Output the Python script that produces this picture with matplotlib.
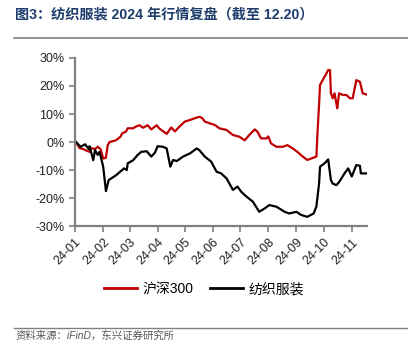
import matplotlib
matplotlib.use("Agg")
import matplotlib.pyplot as plt
import matplotlib.dates as mdates
from matplotlib.lines import Line2D
import pandas as pd

plt.rcParams['font.family'] = ['Liberation Sans', 'Noto Sans CJK SC', 'DejaVu Sans']
plt.rcParams['axes.unicode_minus'] = False

# 沪深300 cumulative return since 2024-01-02 (%)
hs300_dates = ["2024-01-02", "2024-01-06", "2024-01-10", "2024-01-13", "2024-01-17", "2024-01-19",
               "2024-01-23", "2024-01-26", "2024-01-29", "2024-02-01", "2024-02-04", "2024-02-06",
               "2024-02-08", "2024-02-15", "2024-02-20", "2024-02-22", "2024-02-26", "2024-02-28",
               "2024-03-05", "2024-03-08", "2024-03-12", "2024-03-16", "2024-03-21", "2024-03-25",
               "2024-03-31", "2024-04-03", "2024-04-11", "2024-04-16", "2024-04-20", "2024-04-25",
               "2024-05-01", "2024-05-07", "2024-05-12", "2024-05-17", "2024-05-20", "2024-05-23",
               "2024-05-28", "2024-06-03", "2024-06-08", "2024-06-16", "2024-06-23", "2024-06-30",
               "2024-07-06", "2024-07-11", "2024-07-17", "2024-07-20", "2024-07-24", "2024-07-30",
               "2024-08-01", "2024-08-04", "2024-08-10", "2024-08-17", "2024-08-22", "2024-08-28",
               "2024-09-02", "2024-09-08", "2024-09-13", "2024-09-18", "2024-09-23", "2024-09-24",
               "2024-09-26", "2024-09-27", "2024-10-02", "2024-10-06", "2024-10-08", "2024-10-09",
               "2024-10-11", "2024-10-13", "2024-10-16", "2024-10-18", "2024-10-22", "2024-10-26",
               "2024-10-30", "2024-11-02", "2024-11-06", "2024-11-10", "2024-11-13", "2024-11-17"]
hs300_vals = [0.0, -2.2, -2.5, -3.0, -3.5, -2.2,
              -2.5, -1.7, -2.5, -5.9, -5.6, -1.1,
              0.0, 0.6, 1.9, 3.1, 3.7, 4.9,
              4.9, 5.5, 6.0, 5.1, 6.0, 4.5,
              6.0, 4.8, 2.9, 5.2, 3.8, 5.5,
              7.3, 7.9, 8.5, 9.0, 8.6, 7.3,
              6.7, 6.1, 4.9, 4.3, 2.5, 1.9,
              0.6, 2.5, 4.5, 3.7, 1.3, 1.3,
              2.0, -0.5, -1.7, -1.7, -1.1, -2.3,
              -3.5, -5.2, -6.4, -5.8, -5.2, 1.9,
              13.8, 20.4, 23.3, 25.7, 25.7, 17.4,
              15.6, 17.4, 12.0, 17.4, 16.8, 16.8,
              15.6, 15.6, 22.1, 21.5, 17.4, 17.0]

# 纺织服装 cumulative return since 2024-01-02 (%)
textile_dates = ["2024-01-02", "2024-01-07", "2024-01-12", "2024-01-16", "2024-01-17", "2024-01-21",
                 "2024-01-23", "2024-01-26", "2024-01-28", "2024-02-01", "2024-02-04", "2024-02-07",
                 "2024-02-15", "2024-02-24", "2024-02-27", "2024-02-28", "2024-03-05", "2024-03-10",
                 "2024-03-14", "2024-03-20", "2024-03-25", "2024-03-29", "2024-04-01", "2024-04-07",
                 "2024-04-11", "2024-04-12", "2024-04-15", "2024-04-18", "2024-04-22", "2024-04-29",
                 "2024-05-07", "2024-05-14", "2024-05-17", "2024-05-23", "2024-05-30", "2024-06-05",
                 "2024-06-10", "2024-06-16", "2024-06-23", "2024-06-28", "2024-07-02", "2024-07-08",
                 "2024-07-15", "2024-07-22", "2024-07-28", "2024-08-02", "2024-08-10", "2024-08-19",
                 "2024-08-24", "2024-09-01", "2024-09-06", "2024-09-13", "2024-09-20", "2024-09-23",
                 "2024-09-26", "2024-09-27", "2024-10-02", "2024-10-06", "2024-10-09", "2024-10-11",
                 "2024-10-15", "2024-10-18", "2024-10-24", "2024-10-28", "2024-11-01", "2024-11-06",
                 "2024-11-10", "2024-11-11", "2024-11-17"]
textile_vals = [0.0, -1.7, -0.8, -2.5, -1.5, -6.5,
                -2.9, -4.6, -3.5, -8.8, -17.5, -13.6,
                -11.9, -9.4, -10.0, -7.6, -6.5, -4.6,
                -3.5, -3.3, -5.2, -3.8, -1.5, -1.7,
                -2.3, -4.0, -8.8, -6.4, -6.8, -5.2,
                -4.0, -2.3, -2.9, -5.2, -7.0, -10.6,
                -11.2, -13.0, -17.1, -15.9, -17.7, -19.5,
                -21.3, -24.9, -23.7, -22.5, -23.1, -24.9,
                -25.5, -24.9, -26.0, -26.7, -25.5, -23.0,
                -14.7, -8.8, -7.6, -6.2, -13.6, -14.8,
                -15.4, -14.3, -11.2, -9.4, -12.3, -8.2,
                -8.5, -11.2, -11.2]

month_ticks = ["2024-01-01", "2024-02-01", "2024-03-01", "2024-04-01", "2024-05-01", "2024-06-01",
               "2024-07-01", "2024-08-01", "2024-09-01", "2024-10-01", "2024-11-01"]
y_ticks = [-30, -20, -10, 0, 10, 20, 30]

red = "#C00000"
axis_gray = "#808080"

fig = plt.figure(figsize=(4.08, 3.41), dpi=100)
ax = fig.add_axes([0.184, 0.337, 0.716, 0.493])

ax.plot(pd.to_datetime(hs300_dates), hs300_vals, color=red, lw=1.6, label="沪深300")
ax.plot(pd.to_datetime(textile_dates), textile_vals, color="black", lw=1.6, label="纺织服装")

ax.set_ylim(-30, 30)
ax.set_yticks(y_ticks)
ax.set_yticklabels([f"{v}%" for v in y_ticks])
ax.set_xlim(pd.Timestamp("2024-01-01"), pd.Timestamp("2024-11-18"))
ax.set_xticks(pd.to_datetime(month_ticks))
ax.xaxis.set_major_formatter(mdates.DateFormatter("%y-%m"))

for s in ["top", "right"]:
    ax.spines[s].set_visible(False)
for s in ["left", "bottom"]:
    ax.spines[s].set_color(axis_gray)
    ax.spines[s].set_linewidth(1.6)
ax.tick_params(axis="both", colors=axis_gray, width=1.2, length=4, direction="out",
               labelsize=9, labelcolor="#222222")
plt.setp(ax.get_xticklabels(), rotation=45, ha="right", rotation_mode="anchor")

# legend below the plot
handles = [Line2D([], [], color=red, lw=2), Line2D([], [], color="black", lw=2)]
fig.legend(handles, ["沪深300", "纺织服装"], loc="center", bbox_to_anchor=(0.5, 0.152),
           ncol=2, frameon=False, fontsize=10, handlelength=2.4, columnspacing=1.2,
           handletextpad=0.4)

fig.text(0.037, 0.958, "图3：纺织服装 2024 年行情复盘（截至 12.20）", fontsize=10.2,
         fontweight="bold", color="#1F3E6E", ha="left", va="center")
fig.add_artist(Line2D([0.034, 1.0], [0.888, 0.888], color=axis_gray, lw=1.2))
fig.add_artist(Line2D([0.034, 1.0], [0.038, 0.038], color=axis_gray, lw=1.0))
fig.text(0.037, 0.0, "资料来源：iFinD，东兴证券研究所", fontsize=7.5, style="italic",
         color="#555555", ha="left", va="bottom")

fig.savefig("out.png", dpi=100)
